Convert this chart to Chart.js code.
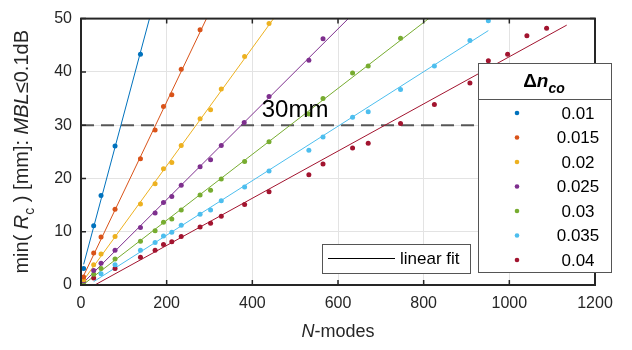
<!DOCTYPE html>
<html><head><meta charset="utf-8">
<script src="https://cdn.jsdelivr.net/npm/chart.js@4/dist/chart.umd.min.js"></script>
<style>html,body{margin:0;padding:0;background:#fff}#wrap{width:632px;height:350px}</style>
</head><body><div id="wrap"><canvas id="c" width="632" height="350"></canvas></div>
<script>
// ---- data ----
const seriesLabels = ['0.01', '0.015', '0.02', '0.025', '0.03', '0.035', '0.04'];
const seriesColors = ['#0072BD', '#D95319', '#EDB120', '#7E2F8E', '#77AC30', '#4DBEEE', '#A2142F'];

const nModes_010 = [6.2, 29.6, 46.8, 79.5, 138.8];
const minRc_010  = [3.1, 11.1, 16.8, 26.1, 43.3];

const nModes_015 = [6.2, 29.6, 46.8, 79.5, 138.8, 173, 192.6, 212, 234, 278];
const minRc_015  = [1.5, 6.0, 9.0, 14.2, 23.7, 29.1, 33.5, 35.7, 40.5, 47.9];

const nModes_020 = [6.2, 29.6, 46.8, 79.5, 138.8, 173, 192.6, 212, 234, 278, 302.5, 327.5, 382, 439];
const minRc_020  = [1.0, 3.8, 5.8, 9.1, 15.2, 19.0, 21.8, 23.0, 26.2, 31.2, 32.9, 36.8, 42.9, 49.1];

const nModes_025 = [6.2, 29.6, 46.8, 79.5, 138.8, 173, 192.6, 212, 234, 278, 302.5, 327.5, 381, 439, 532, 565];
const minRc_025  = [0.8, 2.7, 4.1, 6.5, 10.8, 13.5, 15.5, 16.6, 18.7, 22.2, 23.5, 26.2, 30.5, 35.4, 42.2, 46.2];

const nModes_030 = [6.2, 29.6, 46.8, 79.5, 138.8, 173, 192.6, 212, 234, 278, 302.5, 327.5, 382, 439, 532, 565, 634, 670.5, 746];
const minRc_030  = [0.5, 2.0, 3.1, 4.9, 8.2, 10.2, 11.8, 12.4, 14.1, 16.9, 17.8, 19.9, 23.2, 26.9, 32.1, 35.0, 39.8, 41.1, 46.3];

const nModes_035 = [46.8, 79.5, 138.8, 173, 192.6, 212, 234, 278, 302.5, 327.5, 382, 439, 532, 565, 634, 670.5, 746, 825, 908, 951];
const minRc_035  = [2.1, 3.8, 6.5, 8.0, 9.2, 9.9, 11.2, 13.3, 14.1, 15.8, 18.4, 21.4, 25.3, 27.8, 31.5, 32.5, 36.7, 41.1, 45.9, 49.6];

const nModes_040 = [29.6, 79.5, 138.8, 173, 192.6, 212, 234, 278, 302.5, 327.5, 382, 439, 532, 565, 634, 670.5, 746, 825, 908, 951, 996, 1041, 1087];
const minRc_040  = [1.3, 3.1, 5.2, 6.5, 7.6, 8.1, 9.1, 10.9, 11.6, 12.9, 15.1, 17.5, 20.7, 22.7, 25.7, 26.6, 30.3, 33.9, 37.9, 42.1, 43.3, 46.8, 48.2];

// range of N over which each linear fit is drawn
const fitStart = [6.2, 6.2, 6.2, 6.2, 6.2, 29.6, 29.6];
const fitEnd   = [200, 320, 460, 650, 830, 951, 1134];

const xTicks = [0, 200, 400, 600, 800, 1000, 1200];
const yTicks = [0, 10, 20, 30, 40, 50];
const thresholdR = 30;
const thresholdLabel = '30mm';
const thresholdLabelPos = { x: 422, y: 31.6 };

const nSeries = [nModes_010, nModes_015, nModes_020, nModes_025, nModes_030, nModes_035, nModes_040];
const rSeries = [minRc_010, minRc_015, minRc_020, minRc_025, minRc_030, minRc_035, minRc_040];

// ---- build datasets ----
function linfit(xs, ys) {
  const n = xs.length;
  const mx = xs.reduce((s, v) => s + v, 0) / n;
  const my = ys.reduce((s, v) => s + v, 0) / n;
  let sxx = 0, sxy = 0;
  for (let i = 0; i < n; i++) { sxx += (xs[i] - mx) ** 2; sxy += (xs[i] - mx) * (ys[i] - my); }
  const b = sxy / sxx;
  return { a: my - b * mx, b };
}

const datasets = [];
seriesLabels.forEach((lab, i) => {
  const f = linfit(nSeries[i], rSeries[i]);
  datasets.push({
    type: 'line', label: 'fit ' + lab, showLine: true,
    data: [{ x: fitStart[i], y: f.a + f.b * fitStart[i] }, { x: fitEnd[i], y: f.a + f.b * fitEnd[i] }],
    borderColor: seriesColors[i], borderWidth: 1, pointRadius: 0, fill: false, order: 1
  });
});
seriesLabels.forEach((lab, i) => {
  datasets.push({
    type: 'scatter', label: lab,
    data: nSeries[i].map((x, k) => ({ x, y: rSeries[i][k] })),
    backgroundColor: seriesColors[i], borderColor: seriesColors[i],
    pointRadius: 2.5, pointBorderWidth: 0, order: 0
  });
});
datasets.push({
  type: 'line', label: 'threshold', showLine: true,
  data: [{ x: xTicks[0], y: thresholdR }, { x: xTicks[xTicks.length - 1], y: thresholdR }],
  borderColor: 'rgba(70,70,70,0.9)', borderWidth: 2, borderDash: [13, 7], pointRadius: 0, order: 2
});

const FONT = "'Liberation Sans', Arial, sans-serif";
const AX = '#262626';

function drawRich(ctx, segs, x, y, align, size) {
  const w = segs.map(s => {
    ctx.font = (s.it ? 'italic ' : '') + (s.b ? 'bold ' : '') + (s.sub ? Math.round(size * 0.72) : size) + 'px ' + FONT;
    return ctx.measureText(s.t).width;
  });
  const total = w.reduce((a, b) => a + b, 0);
  let cx = align === 'center' ? x - total / 2 : x;
  segs.forEach((s, i) => {
    ctx.font = (s.it ? 'italic ' : '') + (s.b ? 'bold ' : '') + (s.sub ? Math.round(size * 0.72) : size) + 'px ' + FONT;
    ctx.fillText(s.t, cx, y + (s.sub ? size * 0.3 : 0));
    cx += w[i];
  });
}

const decor = {
  id: 'decor',
  afterDatasetsDraw(chart) {
    const { ctx, chartArea: ca, scales } = chart;
    const xs = scales.x, ys = scales.y;
    ctx.save();
    // frame
    ctx.strokeStyle = AX; ctx.lineWidth = 2;
    ctx.strokeRect(ca.left, ca.top, ca.right - ca.left, ca.bottom - ca.top);
    // inward ticks
    ctx.lineWidth = 1.5;
    ctx.beginPath();
    xTicks.forEach(v => {
      const p = xs.getPixelForValue(v);
      ctx.moveTo(p, ca.bottom); ctx.lineTo(p, ca.bottom - 5);
      ctx.moveTo(p, ca.top); ctx.lineTo(p, ca.top + 5);
    });
    yTicks.forEach(v => {
      const p = ys.getPixelForValue(v);
      ctx.moveTo(ca.left, p); ctx.lineTo(ca.left + 5, p);
      ctx.moveTo(ca.right, p); ctx.lineTo(ca.right - 5, p);
    });
    ctx.stroke();

    // 30mm annotation
    ctx.fillStyle = '#000';
    ctx.font = '24px ' + FONT;
    ctx.textBaseline = 'alphabetic'; ctx.textAlign = 'left';
    ctx.fillText(thresholdLabel, xs.getPixelForValue(thresholdLabelPos.x), ys.getPixelForValue(thresholdLabelPos.y));

    // axis titles
    ctx.fillStyle = AX;
    drawRich(ctx, [{ t: 'N', it: true }, { t: '-modes' }], 338, 337, 'center', 18);
    ctx.save();
    ctx.translate(28, (ca.top + ca.bottom) / 2);
    ctx.rotate(-Math.PI / 2);
    drawRich(ctx, [{ t: 'min( ' }, { t: 'R', it: true }, { t: 'c', sub: true }, { t: ' ) [mm]: ' }, { t: 'MBL', it: true }, { t: '≤0.1dB' }], 0, 0, 'center', 20);
    ctx.restore();

    // "linear fit" legend
    ctx.fillStyle = '#fff'; ctx.strokeStyle = '#555'; ctx.lineWidth = 1;
    ctx.fillRect(322, 244, 148, 29); ctx.strokeRect(322.5, 244.5, 148, 29);
    ctx.strokeStyle = '#000'; ctx.beginPath(); ctx.moveTo(328, 258.5); ctx.lineTo(395, 258.5); ctx.stroke();
    ctx.fillStyle = '#000'; ctx.font = '17px ' + FONT; ctx.textBaseline = 'middle';
    ctx.fillText('linear fit', 400, 259);

    // series legend
    ctx.fillStyle = '#fff'; ctx.strokeStyle = '#555';
    ctx.fillRect(478, 63, 133, 209); ctx.strokeRect(478.5, 63.5, 133, 209);
    ctx.beginPath(); ctx.moveTo(478, 99.5); ctx.lineTo(611, 99.5); ctx.stroke();
    ctx.fillStyle = '#000'; ctx.textBaseline = 'alphabetic';
    drawRich(ctx, [{ t: 'Δ', b: true }, { t: 'n', b: true, it: true }, { t: 'co', b: true, it: true, sub: true }], 544, 87, 'center', 19);
    ctx.textBaseline = 'middle'; ctx.textAlign = 'center'; ctx.font = '17px ' + FONT;
    seriesLabels.forEach((lab, i) => {
      const y = 113 + i * 24.5;
      ctx.fillStyle = seriesColors[i];
      ctx.beginPath(); ctx.arc(517, y, 2.3, 0, Math.PI * 2); ctx.fill();
      ctx.fillStyle = '#000';
      ctx.fillText(lab, 578, y + 1);
    });
    ctx.restore();
  }
};

new Chart(document.getElementById('c'), {
  type: 'scatter',
  data: { datasets },
  options: {
    responsive: false, animation: false,
    layout: { padding: { top: 10, right: 37, left: 0, bottom: 0 } },
    plugins: { legend: { display: false }, tooltip: { enabled: false } },
    scales: {
      x: {
        type: 'linear', min: xTicks[0], max: xTicks[xTicks.length - 1],
        afterBuildTicks: s => { s.ticks = xTicks.map(v => ({ value: v })); },
        afterFit: s => { s.height = 65; },
        ticks: { font: { size: 16, family: FONT }, color: AX, padding: 9, maxRotation: 0, callback: v => String(v) },
        grid: { color: '#e3e3e3', drawTicks: false, lineWidth: 1 },
        border: { display: false }
      },
      y: {
        type: 'linear', min: yTicks[0], max: yTicks[yTicks.length - 1],
        afterBuildTicks: s => { s.ticks = yTicks.map(v => ({ value: v })); },
        afterFit: s => { s.width = 81; },
        ticks: { font: { size: 16, family: FONT }, color: AX, padding: 9, callback: v => String(v) },
        grid: { color: '#e3e3e3', drawTicks: false, lineWidth: 1 },
        border: { display: false }
      }
    }
  },
  plugins: [decor]
});
</script></body></html>
